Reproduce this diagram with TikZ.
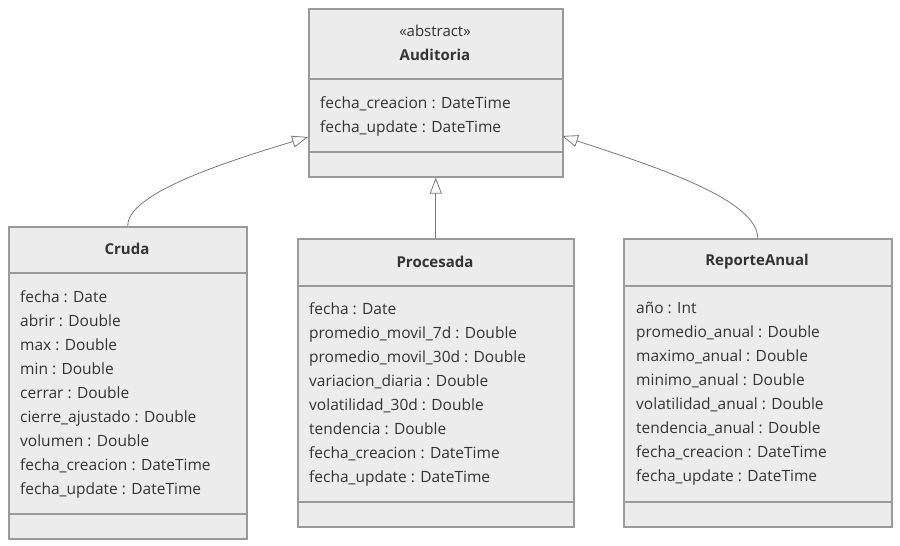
\documentclass[tikz,border=0pt]{standalone}
\usepackage{fontspec}
\setmainfont{Open Sans}
\usetikzlibrary{arrows.meta,calc,positioning}

\definecolor{boxfill}{HTML}{ECECEC}
\definecolor{boxline}{HTML}{9A9A9A}
\definecolor{edgeline}{HTML}{7A7A7A}
\definecolor{txt}{HTML}{333333}

\begin{document}
\begin{tikzpicture}[x=1pt, y=-1pt, >=stealth]

    % Styles
    \tikzset{
        classbox/.style={rectangle, draw=boxline, fill=boxfill, line width=1.6pt, anchor=north west, inner sep=0pt},
        divider/.style={draw=boxline, line width=1.6pt},
        title/.style={font=\fontsize{15}{17}\selectfont\bfseries, text=txt},
        stereo/.style={font=\fontsize{15}{17}\selectfont, text=txt},
        attrs/.style={font=\fontsize{15.5}{24}\selectfont, text=txt, align=left, anchor=north west, inner sep=0pt},
        inherit/.style={draw=edgeline, line width=0.8pt, -{Triangle[open, length=16pt, width=12pt]}}
    }

    \useasboundingbox[fill=white] (0,0) rectangle (900,546);

    % Auditoria (abstract)
    \node[classbox, minimum width=254pt, minimum height=168pt] (aud) at (308,8) {};
    \draw[divider] ($(aud.north west)+(0,71)$) -- ($(aud.north east)+(0,71)$);
    \draw[divider] ($(aud.north west)+(0,144)$) -- ($(aud.north east)+(0,144)$);
    \node[stereo] (audst) at (435,31) {«abstract»};
    \node[title] (audname) at (435,55) {Auditoria};
    \node[attrs] (audattr) at (320,96) {fecha\_creacion : DateTime\\fecha\_update : DateTime};

    % Cruda
    \node[classbox, minimum width=238pt, minimum height=312pt] (cruda) at (8,226) {};
    \draw[divider] ($(cruda.north west)+(0,47)$) -- ($(cruda.north east)+(0,47)$);
    \draw[divider] ($(cruda.north west)+(0,288)$) -- ($(cruda.north east)+(0,288)$);
    \node[title] (crudaname) at (127,249) {Cruda};
    \node[attrs] (crudaattr) at (20,290) {fecha : Date\\abrir : Double\\max : Double\\min : Double\\cerrar : Double\\cierre\_ajustado : Double\\volumen : Double\\fecha\_creacion : DateTime\\fecha\_update : DateTime};

    % Procesada
    \node[classbox, minimum width=276pt, minimum height=288pt] (proc) at (297,238) {};
    \draw[divider] ($(proc.north west)+(0,48)$) -- ($(proc.north east)+(0,48)$);
    \draw[divider] ($(proc.north west)+(0,264)$) -- ($(proc.north east)+(0,264)$);
    \node[title] (procname) at (435,262) {Procesada};
    \node[attrs] (procattr) at (309,302) {fecha : Date\\promedio\_movil\_7d : Double\\promedio\_movil\_30d : Double\\variacion\_diaria : Double\\volatilidad\_30d : Double\\tendencia : Double\\fecha\_creacion : DateTime\\fecha\_update : DateTime};

    % ReporteAnual
    \node[classbox, minimum width=268pt, minimum height=288pt] (rep) at (623,238) {};
    \draw[divider] ($(rep.north west)+(0,48)$) -- ($(rep.north east)+(0,48)$);
    \draw[divider] ($(rep.north west)+(0,264)$) -- ($(rep.north east)+(0,264)$);
    \node[title] (repname) at (757,262) {ReporteAnual};
    \node[attrs] (repattr) at (636,302) {año : Int\\promedio\_anual : Double\\maximo\_anual : Double\\minimo\_anual : Double\\volatilidad\_anual : Double\\tendencia\_anual : Double\\fecha\_creacion : DateTime\\fecha\_update : DateTime};

    % Arrow ends on Auditoria
    \coordinate (audL) at (308,137);
    \coordinate (audR) at (562,136);

    % Inheritance
    \draw[inherit] (cruda.north) .. controls (127,195) and (215,165) .. (audL);
    \draw[inherit] (proc.north) -- (aud.south);
    \draw[inherit] (rep.north) .. controls (757,200) and (660,168) .. (audR);

\end{tikzpicture}
\end{document}
